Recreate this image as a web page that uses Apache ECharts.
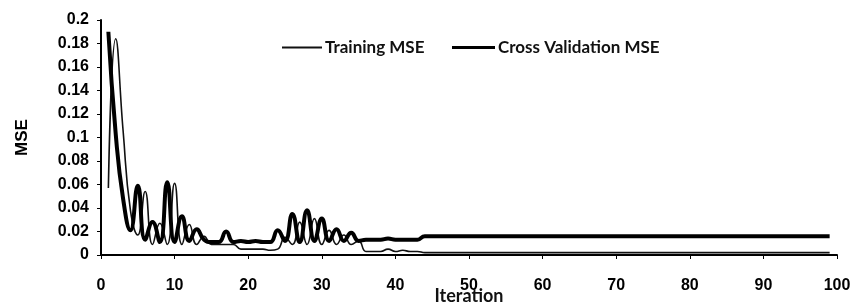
<!DOCTYPE html>
<html>
<head>
<meta charset="utf-8">
<script src="https://cdn.jsdelivr.net/npm/echarts@6/dist/echarts.min.js"></script>
<style>
  html, body { margin: 0; padding: 0; background: #fff; }
  #chart { width: 851px; height: 302px; }
</style>
</head>
<body>
<div id="chart"></div>
<script>
// iteration 1..99
var iterations = [];
for (var i = 1; i <= 99; i++) iterations.push(i);

var trainingMSE = [
  0.057, 0.184, 0.106, 0.038, 0.017, 0.054, 0.009, 0.027, 0.009, 0.061,
  0.009, 0.026, 0.009, 0.016, 0.009, 0.009, 0.009, 0.009, 0.005, 0.005,
  0.005, 0.005, 0.004, 0.005, 0.015, 0.009, 0.028, 0.009, 0.031, 0.009,
  0.021, 0.009, 0.017, 0.009, 0.012, 0.003, 0.003, 0.003, 0.005, 0.003,
  0.004, 0.003, 0.003, 0.002, 0.002, 0.002, 0.002, 0.002, 0.002, 0.002,
  0.002, 0.002, 0.002, 0.002, 0.002, 0.002, 0.002, 0.002, 0.002, 0.002,
  0.002, 0.002, 0.002, 0.002, 0.002, 0.002, 0.002, 0.002, 0.002, 0.002,
  0.002, 0.002, 0.002, 0.002, 0.002, 0.002, 0.002, 0.002, 0.002, 0.002,
  0.002, 0.002, 0.002, 0.002, 0.002, 0.002, 0.002, 0.002, 0.002, 0.002,
  0.002, 0.002, 0.002, 0.002, 0.002, 0.002, 0.002, 0.002, 0.002
];

var crossValidationMSE = [
  0.190, 0.103, 0.048, 0.021, 0.059, 0.013, 0.028, 0.011, 0.062, 0.011,
  0.033, 0.012, 0.022, 0.013, 0.011, 0.011, 0.020, 0.011, 0.012, 0.011,
  0.012, 0.011, 0.011, 0.021, 0.012, 0.035, 0.011, 0.038, 0.012, 0.031,
  0.012, 0.022, 0.012, 0.019, 0.012, 0.013, 0.013, 0.013, 0.014, 0.013,
  0.013, 0.013, 0.013, 0.016, 0.016, 0.016, 0.016, 0.016, 0.016, 0.016,
  0.016, 0.016, 0.016, 0.016, 0.016, 0.016, 0.016, 0.016, 0.016, 0.016,
  0.016, 0.016, 0.016, 0.016, 0.016, 0.016, 0.016, 0.016, 0.016, 0.016,
  0.016, 0.016, 0.016, 0.016, 0.016, 0.016, 0.016, 0.016, 0.016, 0.016,
  0.016, 0.016, 0.016, 0.016, 0.016, 0.016, 0.016, 0.016, 0.016, 0.016,
  0.016, 0.016, 0.016, 0.016, 0.016, 0.016, 0.016, 0.016, 0.016
];

function pairs(ys) {
  return iterations.map(function (x, k) { return [x, ys[k]]; });
}

var chart = echarts.init(document.getElementById('chart'), null, { renderer: 'canvas' });

var axisFont = { fontFamily: 'Liberation Sans', fontWeight: 'bold', fontSize: 16, color: '#000' };
var legendFont = { fontFamily: 'Lato', fontWeight: 'bold', fontSize: 17, color: '#111', padding: [0, 0, 0, -2] };

chart.setOption({
  animation: false,
  backgroundColor: '#fff',
  grid: { left: 101, right: 14, top: 20, bottom: 47, containLabel: false, outerBoundsMode: 'none' },
  legend: [
    {
      left: 277, top: 34, itemWidth: 40, itemHeight: 2, icon: 'rect',
      textStyle: legendFont,
      data: ['Training MSE']
    },
    {
      left: 447, top: 34, itemWidth: 43, itemHeight: 3, icon: 'rect',
      textStyle: legendFont,
      data: ['Cross Validation MSE']
    }
  ],
  xAxis: {
    type: 'value',
    min: 0,
    max: 100,
    interval: 10,
    name: 'Iteration',
    nameLocation: 'middle',
    nameGap: 32,
    nameMoveOverlap: false,
    nameTextStyle: { fontFamily: 'Lato', fontWeight: 'bold', fontSize: 18, color: '#111' },
    axisLine: { lineStyle: { color: '#000', width: 2 } },
    axisTick: { show: true, length: 4, lineStyle: { color: '#000', width: 1 } },
    axisLabel: Object.assign({ margin: 23 }, axisFont),
    splitLine: { show: false }
  },
  yAxis: {
    type: 'value',
    min: 0,
    max: 0.2,
    interval: 0.02,
    name: 'MSE',
    nameLocation: 'middle',
    nameGap: 70,
    nameMoveOverlap: false,
    nameTextStyle: { fontFamily: 'Liberation Sans', fontWeight: 'bold', fontSize: 17, color: '#000' },
    axisLine: { show: true, lineStyle: { color: '#000', width: 2 } },
    axisTick: { show: true, length: 4, lineStyle: { color: '#000', width: 1 } },
    axisLabel: Object.assign({ margin: 12 }, axisFont),
    splitLine: { show: false }
  },
  series: [
    {
      name: 'Training MSE',
      type: 'line',
      data: pairs(trainingMSE),
      smooth: 0.5,
      symbol: 'none',
      lineStyle: { color: '#111', width: 1.6 },
      itemStyle: { color: '#111' }
    },
    {
      name: 'Cross Validation MSE',
      type: 'line',
      data: pairs(crossValidationMSE),
      smooth: 0.5,
      symbol: 'none',
      lineStyle: { color: '#000', width: 4 },
      itemStyle: { color: '#000' }
    }
  ]
});
</script>
</body>
</html>
